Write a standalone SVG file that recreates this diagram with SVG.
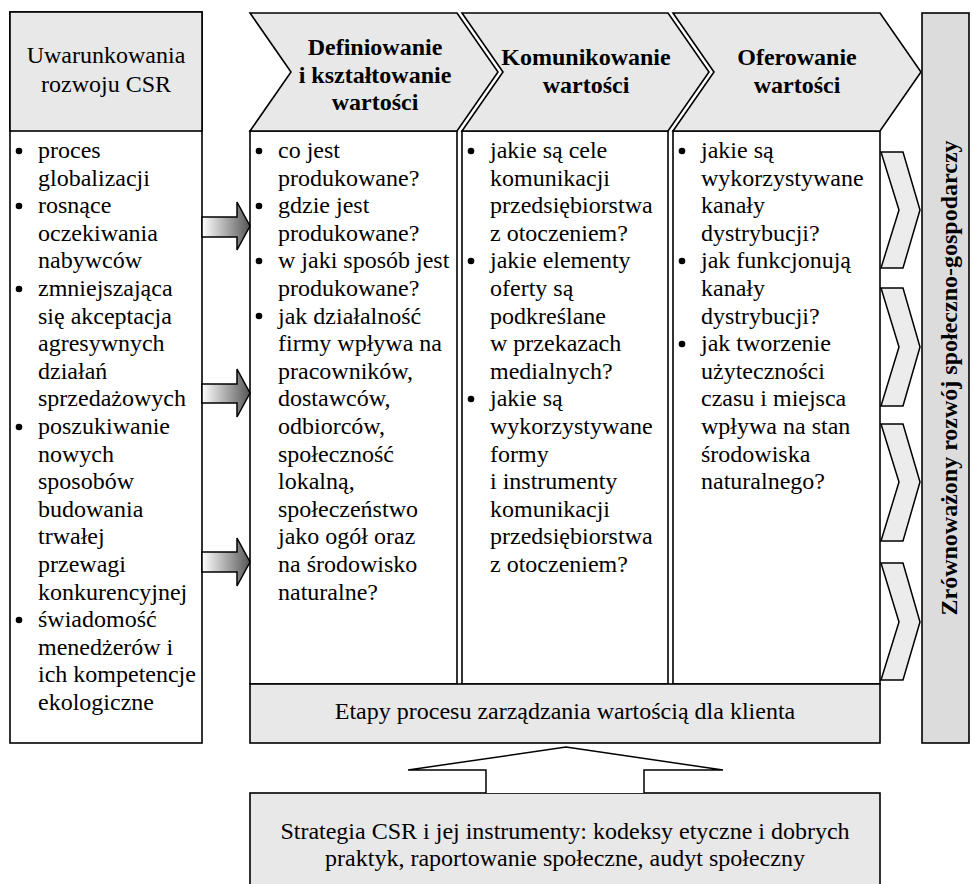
<svg xmlns="http://www.w3.org/2000/svg" width="972" height="884" viewBox="0 0 972 884">
<style>
text{font-family:"Liberation Serif","Times New Roman",serif;font-size:24px;fill:#000}
.b{font-weight:bold}
.m{text-anchor:middle}
.box{fill:#fff;stroke:#000;stroke-width:1.6}
.hd{fill:#e8e8e8;stroke:#000;stroke-width:1.6;stroke-linejoin:miter}
.rc{fill:#ececec;stroke:#000;stroke-width:1.5}
.dot{fill:#000}
.ar{stroke:#000;stroke-width:1.5}
</style>
<defs>
<linearGradient id="g" x1="0" y1="0" x2="1" y2="0">
<stop offset="0" stop-color="#ffffff"/>
<stop offset="0.7" stop-color="#8a8a8a"/>
<stop offset="1" stop-color="#555555"/>
</linearGradient>
</defs>

<g id="left">
<rect class="box" x="10" y="12" width="192" height="731"/>
<rect class="hd" x="10" y="12" width="192" height="119"/>
<text class="m" x="106"><tspan x="106" y="63">Uwarunkowania</tspan><tspan x="106" y="92">rozwoju CSR</tspan></text>
<g class="dot"><circle cx="19" cy="151" r="3.3"/><circle cx="19" cy="206" r="3.3"/><circle cx="19" cy="289" r="3.3"/><circle cx="19" cy="427" r="3.3"/><circle cx="19" cy="620" r="3.3"/></g>
<text><tspan x="38" y="158">proces</tspan><tspan x="38" y="185.6">globalizacji</tspan><tspan x="38" y="213.2">rosnące</tspan><tspan x="38" y="240.8">oczekiwania</tspan><tspan x="38" y="268.4">nabywców</tspan><tspan x="38" y="296">zmniejszająca</tspan><tspan x="38" y="323.6">się akceptacja</tspan><tspan x="38" y="351.2">agresywnych</tspan><tspan x="38" y="378.8">działań</tspan><tspan x="38" y="406.4">sprzedażowych</tspan><tspan x="38" y="434">poszukiwanie</tspan><tspan x="38" y="461.6">nowych</tspan><tspan x="38" y="489.2">sposobów</tspan><tspan x="38" y="516.8">budowania</tspan><tspan x="38" y="544.4">trwałej</tspan><tspan x="38" y="572">przewagi</tspan><tspan x="38" y="599.6">konkurencyjnej</tspan><tspan x="38" y="627.2">świadomość</tspan><tspan x="38" y="654.8">menedżerów i</tspan><tspan x="38" y="682.4">ich kompetencje</tspan><tspan x="38" y="710">ekologiczne</tspan></text>
</g>

<g id="col1">
<rect class="box" x="250" y="131" width="207" height="553"/>
<polygon class="hd" points="250,13 457,13 498,72 457,131 250,131 291,72"/>
<text class="b m"><tspan x="375" y="55">Definiowanie</tspan><tspan x="375" y="82.5">i kształtowanie</tspan><tspan x="375" y="110">wartości</tspan></text>
<g class="dot"><circle cx="259" cy="151" r="3.3"/><circle cx="259" cy="206" r="3.3"/><circle cx="259" cy="261" r="3.3"/><circle cx="259" cy="316" r="3.3"/></g>
<text><tspan x="278" y="158">co jest</tspan><tspan x="278" y="185.6">produkowane?</tspan><tspan x="278" y="213.2">gdzie jest</tspan><tspan x="278" y="240.8">produkowane?</tspan><tspan x="278" y="268.4">w jaki sposób jest</tspan><tspan x="278" y="296">produkowane?</tspan><tspan x="278" y="323.6">jak działalność</tspan><tspan x="278" y="351.2">firmy wpływa na</tspan><tspan x="278" y="378.8">pracowników,</tspan><tspan x="278" y="406.4">dostawców,</tspan><tspan x="278" y="434">odbiorców,</tspan><tspan x="278" y="461.6">społeczność</tspan><tspan x="278" y="489.2">lokalną,</tspan><tspan x="278" y="516.8">społeczeństwo</tspan><tspan x="278" y="544.4">jako ogół oraz</tspan><tspan x="278" y="572">na środowisko</tspan><tspan x="278" y="599.6">naturalne?</tspan></text>
</g>

<g id="col2">
<rect class="box" x="462" y="131" width="206" height="553"/>
<polygon class="hd" points="462,13 668,13 709,72 668,131 462,131 503,72"/>
<text class="b m"><tspan x="586" y="65">Komunikowanie</tspan><tspan x="586" y="92.5">wartości</tspan></text>
<g class="dot"><circle cx="471" cy="151" r="3.3"/><circle cx="471" cy="261" r="3.3"/><circle cx="471" cy="399" r="3.3"/></g>
<text><tspan x="490" y="158">jakie są cele</tspan><tspan x="490" y="185.6">komunikacji</tspan><tspan x="490" y="213.2">przedsiębiorstwa</tspan><tspan x="490" y="240.8">z otoczeniem?</tspan><tspan x="490" y="268.4">jakie elementy</tspan><tspan x="490" y="296">oferty są</tspan><tspan x="490" y="323.6">podkreślane</tspan><tspan x="490" y="351.2">w przekazach</tspan><tspan x="490" y="378.8">medialnych?</tspan><tspan x="490" y="406.4">jakie są</tspan><tspan x="490" y="434">wykorzystywane</tspan><tspan x="490" y="461.6">formy</tspan><tspan x="490" y="489.2">i instrumenty</tspan><tspan x="490" y="516.8">komunikacji</tspan><tspan x="490" y="544.4">przedsiębiorstwa</tspan><tspan x="490" y="572">z otoczeniem?</tspan></text>
</g>

<g id="col3">
<rect class="box" x="673" y="131" width="207" height="553"/>
<polygon class="hd" points="673,13 880,13 921,72 880,131 673,131 714,72"/>
<text class="b m"><tspan x="797" y="65">Oferowanie</tspan><tspan x="797" y="92.5">wartości</tspan></text>
<g class="dot"><circle cx="682" cy="151" r="3.3"/><circle cx="682" cy="261" r="3.3"/><circle cx="682" cy="344" r="3.3"/></g>
<text><tspan x="701" y="158">jakie są</tspan><tspan x="701" y="185.6">wykorzystywane</tspan><tspan x="701" y="213.2">kanały</tspan><tspan x="701" y="240.8">dystrybucji?</tspan><tspan x="701" y="268.4">jak funkcjonują</tspan><tspan x="701" y="296">kanały</tspan><tspan x="701" y="323.6">dystrybucji?</tspan><tspan x="701" y="351.2">jak tworzenie</tspan><tspan x="701" y="378.8">użyteczności</tspan><tspan x="701" y="406.4">czasu i miejsca</tspan><tspan x="701" y="434">wpływa na stan</tspan><tspan x="701" y="461.6">środowiska</tspan><tspan x="701" y="489.2">naturalnego?</tspan></text>
</g>

<g id="etapy">
<rect class="hd" x="250" y="684" width="630" height="59"/>
<text class="m" x="565" y="719">Etapy procesu zarządzania wartością dla klienta</text>
</g>

<g id="right">
<rect x="922" y="13" width="47" height="730" fill="#dcdcdc" stroke="#000" stroke-width="1.6"/>
<text class="b m" transform="translate(957,378) rotate(-90)" x="0" y="0">Zrównoważony rozwój społeczno-gospodarczy</text>
</g>

<g id="strategy">
<rect class="hd" x="250" y="793" width="630" height="110"/>
<text class="m"><tspan x="565" y="839">Strategia CSR i jej instrumenty: kodeksy etyczne i dobrych</tspan><tspan x="565" y="866">praktyk, raportowanie społeczne, audyt społeczny</tspan></text>
</g>

<g id="connectors">
<path class="ar" d="M202,217 H237 V202 L250,226 L237,250 V237 H202 Z" fill="url(#g)"/>
<path class="ar" d="M202,384 H237 V369 L250,393 L237,417 V403 H202 Z" fill="url(#g)"/>
<path class="ar" d="M202,552 H237 V538 L250,562 L237,586 V572 H202 Z" fill="url(#g)"/>
<polygon class="rc" points="881,152 903,152 920,210 903,268 881,268 899,210"/>
<polygon class="rc" points="881,288 903,288 920,347 903,406 881,406 899,347"/>
<polygon class="rc" points="881,424 903,424 920,482 903,541 881,541 899,482"/>
<polygon class="rc" points="881,563 903,563 920,622 903,680 881,680 899,622"/>
<path class="ar" d="M486,793 V770 H408 L566,747 L723,770 H644 V793" fill="#fff"/>
</g>
</svg>
